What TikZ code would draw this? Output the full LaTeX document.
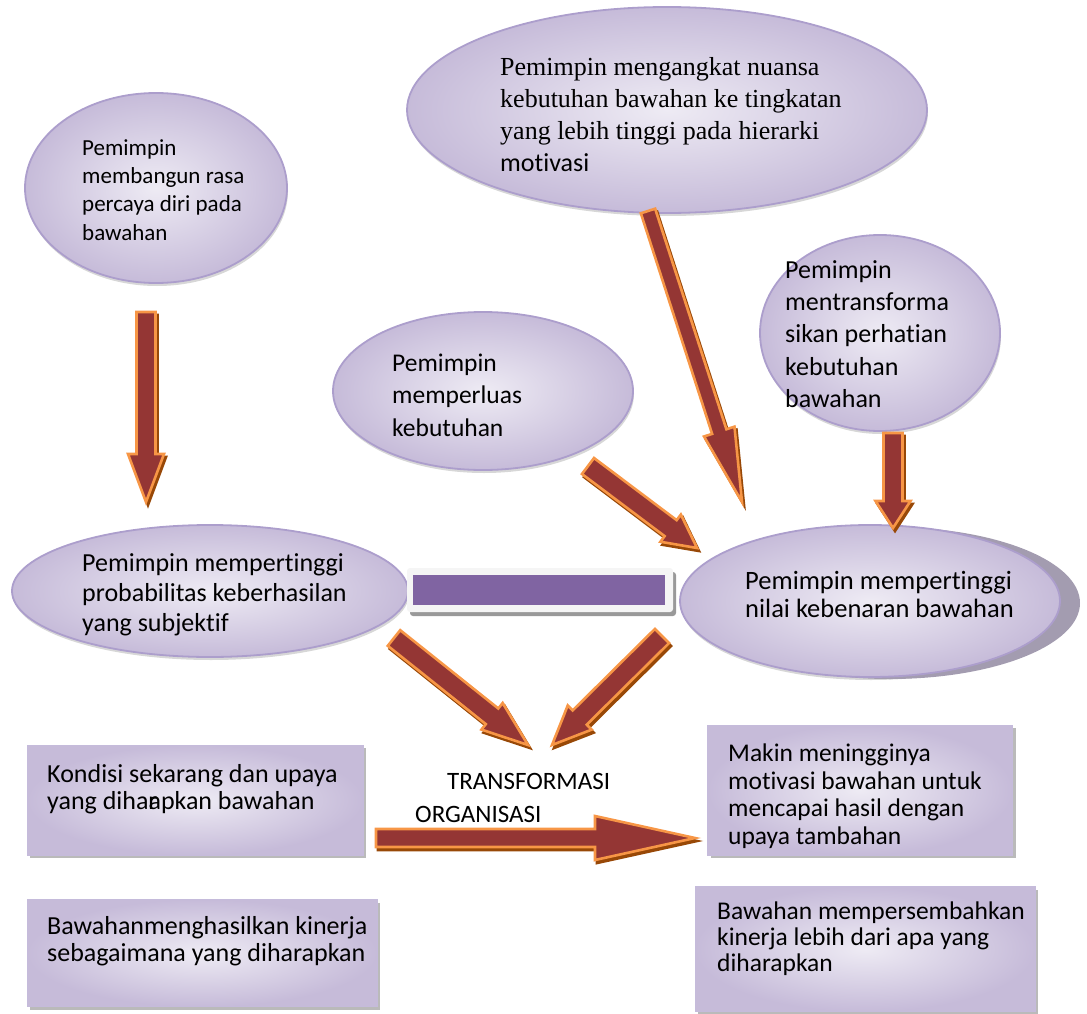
\documentclass[tikz,border=0pt]{standalone}
\usepackage{fontspec}
\setmainfont{Carlito}[Ligatures=NoCommon]
\newfontfamily\timesf{Liberation Serif}[Ligatures=NoCommon]
\usetikzlibrary{shapes.geometric,shadows}
\definecolor{lavin}{RGB}{238,235,244}
\definecolor{lavout}{RGB}{198,187,217}
\definecolor{lavedge}{RGB}{172,158,204}
\definecolor{arrfill}{RGB}{148,54,52}
\definecolor{arredge}{RGB}{247,150,70}
\definecolor{arrshadow}{RGB}{152,72,7}
\definecolor{barpurple}{RGB}{128,100,162}
\definecolor{crescent}{RGB}{163,156,176}
\tikzset{
  oval/.style={ellipse, draw=lavedge, line width=1.8pt, inner color=lavin, outer color=lavout,
    inner sep=0pt, drop shadow={shadow xshift=1pt, shadow yshift=-3pt, fill=black!35, opacity=0.45}},
  box/.style={rectangle, draw=lavedge!70, line width=1pt, inner color=lavin, outer color=lavout,
    inner sep=0pt, drop shadow={shadow xshift=3pt, shadow yshift=-3pt, fill=black!45, opacity=0.6}},
  txt/.style={anchor=west, align=left, inner sep=0pt},
  arrbody/.style={fill=arrfill, draw=arredge, line width=2.6pt, line join=miter},
  arrshade/.style={fill=arrshadow, draw=arrshadow, line width=2.6pt},
}
% block arrow: #1 tail coord, #2 tip coord, #3 shaft half width, #4 head half width, #5 head length
\newcommand\blockarrow[5]{%
  \path (#1); \pgfgetlastxy{\bxa}{\bya}%
  \path (#2); \pgfgetlastxy{\bxb}{\byb}%
  \pgfmathsetmacro\bang{atan2((\byb)-(\bya),(\bxb)-(\bxa))}%
  \pgfmathsetmacro\blen{veclen((\bxb)-(\bxa),(\byb)-(\bya))}%
  \pgfmathsetmacro\bneck{\blen-#5}%
  \begin{scope}[xshift=2pt,yshift=-3pt,shift={(\bxa,\bya)},rotate=\bang]
    \path[arrshade] (0,#3) -- (\bneck,#3) -- (\bneck,#4) -- (\blen,0) -- (\bneck,-#4) -- (\bneck,-#3) -- (0,-#3) -- cycle;
  \end{scope}
  \begin{scope}[shift={(\bxa,\bya)},rotate=\bang]
    \path[arrbody] (0,#3) -- (\bneck,#3) -- (\bneck,#4) -- (\blen,0) -- (\bneck,-#4) -- (\bneck,-#3) -- (0,-#3) -- cycle;
  \end{scope}
}
\begin{document}
\begin{tikzpicture}[x=1pt,y=1pt]
\useasboundingbox (0,0) rectangle (1087,-1014);

% ovals
\node[oval, minimum width=262, minimum height=190] (A) at (156,-188) {};
\node[oval, minimum width=520, minimum height=206] (B) at (667,-110) {};
\node[oval, minimum width=240, minimum height=196] (C) at (880,-333) {};
\node[oval, minimum width=300, minimum height=158] (D) at (483,-391) {};
\node[oval, minimum width=396, minimum height=132] (E) at (210,-591) {};
\node[oval, minimum width=380, minimum height=152,
  drop shadow={shadow xshift=20pt, shadow yshift=-2pt, fill=crescent, opacity=1}] (F) at (870,-601) {};

% boxes
\node[box, minimum width=336, minimum height=110] (G) at (195,-800) {};
\node[box, minimum width=350, minimum height=107] (H) at (202,-953) {};
\node[box, minimum width=305, minimum height=130] (I) at (860,-790) {};
\node[box, minimum width=340, minimum height=125] (J) at (865,-949) {};

% bar
\node[rectangle, rounded corners=3pt, fill=black!4, minimum width=266, minimum height=44,
  drop shadow={shadow xshift=3pt, shadow yshift=-4pt, fill=black!40, opacity=1}] (bar) at (540,-590) {};
\node[rectangle, fill=barpurple, minimum width=252, minimum height=30] (barin) at (539,-590) {};

% texts
\node[txt, font=\fontsize{23}{28.3}\selectfont] (tA) at (82,-190)
  {Pemimpin\\membangun rasa\\percaya diri pada\\bawahan};
\node[txt, font=\fontsize{26}{32}\selectfont] (tB) at (500,-115)
  {\timesf Pemimpin mengangkat nuansa\\\timesf kebutuhan bawahan ke tingkatan\\\timesf yang lebih tinggi pada hierarki\\\normalfont motivasi};
\node[txt, font=\fontsize{26}{32.3}\selectfont] (tC) at (785,-334)
  {Pemimpin\\mentransforma\\sikan perhatian\\kebutuhan\\bawahan};
\node[txt, font=\fontsize{25.5}{32.5}\selectfont] (tD) at (392,-395)
  {Pemimpin\\memperluas\\kebutuhan};
\node[txt, font=\fontsize{26}{30}\selectfont] (tE) at (82,-595)
  {Pemimpin mempertinggi\\probabilitas keberhasilan\\yang subjektif};
\node[txt, font=\fontsize{26.5}{28}\selectfont] (tF) at (745,-594)
  {Pemimpin mempertinggi\\nilai kebenaran bawahan};
\node[txt, font=\fontsize{26}{27.5}\selectfont] (tG) at (47,-789)
  {Kondisi sekarang dan upaya\\yang diha\rlap{r}apkan bawahan};
\node[txt, font=\fontsize{26}{27.5}\selectfont] (tH) at (47,-941)
  {Bawahanmenghasilkan kinerja\\sebagaimana yang diharapkan};
\node[txt, font=\fontsize{25.5}{27.5}\selectfont] (tI) at (728,-796)
  {Makin meningginya\\motivasi bawahan untuk\\mencapai hasil dengan\\upaya tambahan};
\node[txt, font=\fontsize{25.5}{26}\selectfont] (tJ) at (717,-939)
  {Bawahan mempersembahkan\\kinerja lebih dari apa yang\\diharapkan};
\node[txt, font=\fontsize{25}{33}\selectfont] (tT) at (415,-798)
  {\hspace*{32pt}TRANSFORMASI\\ORGANISASI};

% arrow end points
\coordinate (a1) at (146,-312);  \coordinate (a2) at (146,-502);
\coordinate (b1) at (648,-211);  \coordinate (b2) at (742,-502);
\coordinate (c1) at (893,-433);  \coordinate (c2) at (893,-528);
\coordinate (d1) at (588,-466);  \coordinate (d2) at (697,-548);
\coordinate (e1) at (394,-638);  \coordinate (e2) at (528,-745);
\coordinate (f1) at (662,-636);  \coordinate (f2) at (552,-745);
\coordinate (g1) at (376,-838);  \coordinate (g2) at (695,-838);

\blockarrow{a1}{a2}{9.5}{18}{48}
\blockarrow{b1}{b2}{7.5}{16}{74}
\blockarrow{c1}{c2}{9.5}{17.5}{27}
\blockarrow{d1}{d2}{10}{17}{33}
\blockarrow{e1}{e2}{10}{17}{46}
\blockarrow{f1}{f2}{10}{17}{39}
\blockarrow{g1}{g2}{9}{22}{100}
\end{tikzpicture}
\end{document}
